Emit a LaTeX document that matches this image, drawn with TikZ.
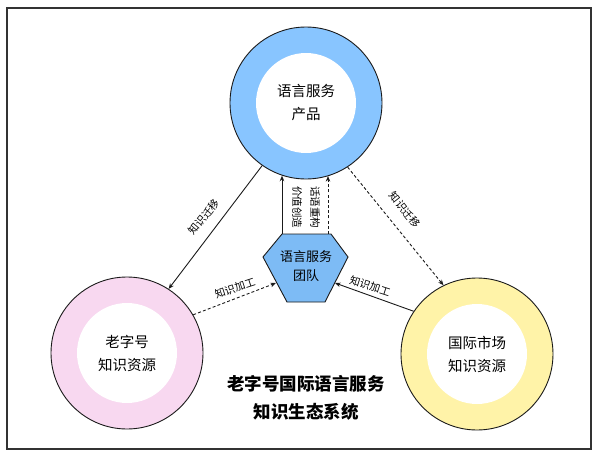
\documentclass[tikz,border=0pt]{standalone}
\usepackage{fontspec}
\setmainfont{Noto Sans CJK SC}
\usepackage{tikz}
\usetikzlibrary{arrows.meta,positioning,calc}
\usepackage{xcolor}
\definecolor{ecoblue}{HTML}{88C5FF}
\definecolor{ecohex}{HTML}{7DBBF5}
\definecolor{ecopink}{HTML}{F8D8F0}
\definecolor{ecoyellow}{HTML}{FFF3A8}
\definecolor{ecoink}{HTML}{1A1A1A}
\tikzset{
    ring/.style={
        circle,draw=ecoink,line width=0.9pt,fill=#1,
        minimum size=152pt,align=center,font=\fontsize{14.5}{23}\selectfont,
        path picture={\fill[white] (path picture bounding box.center) circle (50pt);}
    },
    ring/.default=ecoblue,
    flow/.style={
        -{Stealth[length=5.5pt,width=4.5pt]},line width=0.9pt,draw=ecoink
    },
    flowdash/.style={
        flow,dash pattern=on 3pt off 2.2pt
    },
    tag/.style={
        font=\fontsize{10.5}{12}\selectfont,inner sep=0.5pt
    }
}

\begin{document}
\begin{tikzpicture}[x=1pt,y=-1pt]

\useasboundingbox (0,0) rectangle (598,455);
\draw[line width=1.2pt,draw=black!80] (7,8) rectangle (591,449);

% the three rings
\node[ring=ecoblue](prod) at (306,103) {语言服务\\产品};
\node[ring=ecopink](old) at (127,353) {老字号\\知识资源};
\node[ring=ecoyellow](intl) at (477,354) {国际市场\\知识资源};

% team hexagon
\coordinate (h1) at (282,234);
\coordinate (h2) at (331,234);
\coordinate (h3) at (348,257);
\coordinate (h4) at (325,302);
\coordinate (h5) at (287,302);
\coordinate (h6) at (263,257);
\draw[draw=ecoink,line width=0.9pt,fill=ecohex]
    (h1) -- (h2) -- (h3) -- (h4) -- (h5) -- (h6) -- cycle;
\node[align=center,font=\fontsize{13}{19}\selectfont](team) at (306,266) {语言服务\\团队};
\coordinate (hl) at (276,283);
\coordinate (hr) at (335,283);
\coordinate (ht) at (328,234);

% connectors
\draw[flow] (prod.235) -- (old.57);
\draw[flowdash] (prod.-57) -- (intl.116);
\draw[flow] (h1) -- (h1 |- prod.-108);
\draw[flowdash] (ht) -- (ht |- prod.-73);
\draw[flowdash] (old.30) -- (hl);
\draw[flow] (intl.146) -- (hr);

% labels
\node[tag,rotate=50](lmove) at (204,217) {知识迁移};
\node[tag,rotate=-52](rmove) at (405,210) {知识迁移};
\node[tag,rotate=-90](value) at (297,207) {价值创造};
\node[tag,rotate=-90](speech) at (315,207) {话语重构};
\node[tag,rotate=18](lwork) at (235,288) {知识加工};
\node[tag,rotate=-18](rwork) at (370,286) {知识加工};

% title
\node[align=center,font=\fontsize{17.5}{28}\selectfont\bfseries](title) at (306,398)
{老字号国际语言服务\\知识生态系统};

\end{tikzpicture}
\end{document}
